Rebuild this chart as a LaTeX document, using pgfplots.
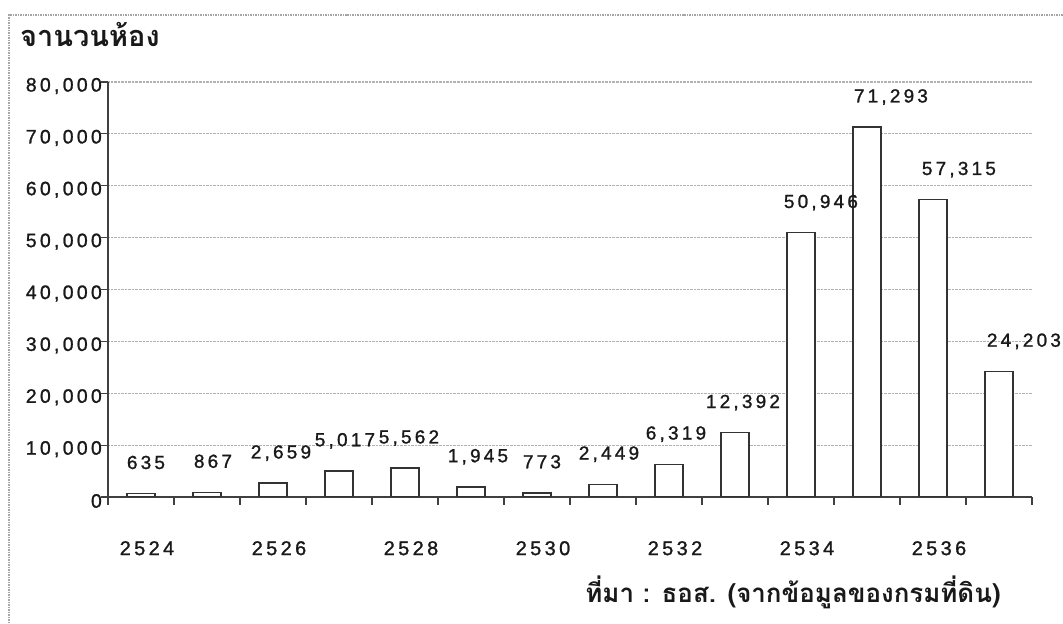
\documentclass[border=0pt]{standalone}
\usepackage{pgfplots}
\pgfplotsset{compat=1.18}
\usepackage{pgfplotstable}
\usepackage{fontspec}
\setmainfont{Liberation Sans}
\newfontfamily\numfont[LetterSpace=17, FakeBold=1.2]{Liberation Sans}
\newfontfamily\thaifont[Script=Thai]{Loma}

\pgfplotstableread{
x y dx
0 635 5
1 867 6
2 2659 8
3 5017 6
4 5562 4
5 1945 7
6 773 5
7 2449 6
8 6319 7
9 12392 8
10 50946 20
11 71293 24
12 57315 26
13 24203 25
}\rooms

\begin{document}
\begin{tikzpicture}[x=1bp,y=1bp]
\useasboundingbox (0,0) rectangle (1063,624);
\fill[white] (0,0) rectangle (1063,624);
\draw[gray!70, densely dotted, line width=1.5bp] (8,609) -- (1063,609) (9,609) -- (9,0);
\begin{axis}[
  at={(108bp,127bp)}, anchor=south west,
  scale only axis, width=924bp, height=415bp,
  xmin=-0.5, xmax=13.5, ymin=0, ymax=80000,
  axis x line=bottom, axis y line=left,
  axis line style={-, black!75, line width=1.3bp},
  ytick={0,10000,...,80000},
  scaled y ticks=false,
  ymajorgrids, major grid style={densely dotted, gray!60, line width=1.2bp},
  xtick={0,2,...,12}, xticklabels={2524,2526,2528,2530,2532,2534,2536},
  minor xtick={-0.5,0.5,...,13.5},
  tick align=outside,
  major tick length=7bp, minor tick length=8bp,
  major x tick style={draw=none},
  tick style={black!75, line width=1.2bp},
  /pgf/number format/.cd, 1000 sep={,}, assume math mode=true,
  /pgfplots/.cd,
  yticklabel style={font=\numfont\fontsize{19.5}{22}\selectfont, text=black!90, inner sep=0pt, anchor=east, xshift=1bp, yshift=-4bp},
  xticklabel style={font=\numfont\fontsize{20}{24}\selectfont, text=black!90, inner sep=0pt, anchor=north, yshift=-37bp, xshift=6bp},
  ybar, bar width=28bp,
]
\addplot[bar shift=0pt, fill=white, draw=black!80, line width=1.4bp,
  nodes near coords,
  visualization depends on={\thisrow{dx} \as \dx},
  every node near coord/.append style={font=\numfont\fontsize{19}{22}\selectfont, text=black!90, inner sep=0pt, text depth=0pt, yshift=24bp, xshift=\dx pt}
] table[x=x, y=y] {\rooms};
\end{axis}
\node[anchor=base west, inner sep=0pt, font=\thaifont\bfseries\fontsize{29}{32}\selectfont, text=black!90] at (20,577) {จานวนห้อง};
\node[anchor=base, inner sep=0pt, font=\thaifont\bfseries\fontsize{26}{30}\selectfont, text=black!90] at (793,21) {ที่มา : ธอส. (จากข้อมูลของกรมที่ดิน)};
\end{tikzpicture}
\end{document}
